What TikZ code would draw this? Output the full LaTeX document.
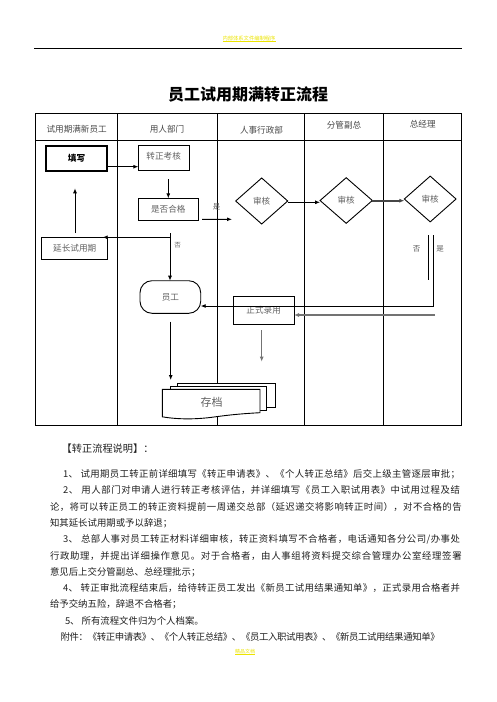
\documentclass[tikz,border=0pt]{standalone}
\usepackage{fontspec}
\setmainfont{Noto Sans CJK SC}
\usetikzlibrary{shapes.geometric,arrows.meta,calc}
\definecolor{boxtxt}{gray}{0.38}
\definecolor{headtxt}{gray}{0.28}
\definecolor{bodytxt}{gray}{0.12}
\definecolor{wm}{RGB}{236,228,0}
\definecolor{greyline}{gray}{0.45}
\def\gp{\hskip2pt\relax}
\def\sprdA#1{\ifx#1\relax\else#1\hskip0pt plus 1fil minus 1pt\relax\expandafter\sprdA\fi}
\newcommand\jline[2]{\hbox to #1{\sprdA#2\relax\unskip}}
\begin{document}
\begin{tikzpicture}[x=1pt,y=-1pt,
  every node/.style={inner sep=0pt,outer sep=0pt},
  boxs/.style={draw,line width=0.9pt,fill=white,text=boxtxt,font=\fontsize{8.6}{10}\selectfont},
  dia/.style={boxs,shape=diamond},
  arr/.style={-{Latex[length=5pt,width=4pt]},line width=0.9pt},
  tline/.style={line width=1.2pt},
  headlbl/.style={text=headtxt,font=\fontsize{8.6}{10}\selectfont},
  body/.style={anchor=west,text=bodytxt,font=\fontsize{9.4}{11}\selectfont},
  small/.style={text=boxtxt,font=\fontsize{7.5}{9}\selectfont},
  wmark/.style={text=wm,font=\fontsize{5.3}{6}\selectfont}]
\useasboundingbox (0,0) rectangle (496,702);

% page header
\node[wmark] (hdr) at (249,38.5) {内部体系文件编制程序};
\draw[wm,line width=0.7pt] ($(hdr.south west)+(0,0.8)$) -- ($(hdr.south east)+(0,0.8)$);
\draw[line width=0.8pt] (34,48.7) -- (462,48.7);

% title
\node[font=\bfseries\fontsize{16}{18}\selectfont] (title) at (248,94) {员工试用期满转正流程};

% swimlane table
\draw[tline] (35.7,113.3) rectangle (461.7,425.7);
\draw[tline] (35.7,140.7) -- (461.7,140.7);
\foreach \x in {117.7,217.7,304.7,383.3} \draw[tline] (\x,113.3) -- (\x,425.7);
\node[headlbl] (h1) at (76.7,129.3) {试用期满新员工};
\node[headlbl] (h2) at (167,129.3) {用人部门};
\node[headlbl] (h3) at (261.5,129.8) {人事行政部};
\node[headlbl] (h4) at (344,125) {分管副总};
\node[headlbl] (h5) at (422.7,124.5) {总经理};

% nodes
\node[boxs,line width=1.9pt,text=black,font=\bfseries\fontsize{8.6}{10}\selectfont,minimum width=61.6pt,minimum height=25.3pt] (tx) at (76.5,158.35) {填写};
\node[boxs,minimum width=50.7pt,minimum height=25.7pt] (zk) at (163.65,157.85) {\raisebox{3pt}{转正考核}};
\node[boxs,minimum width=60pt,minimum height=21.7pt] (hg) at (168.3,209.15) {是否合格};
\node[boxs,minimum width=66pt,minimum height=21.6pt] (yc) at (74.7,248.5) {\raisebox{-2.5pt}{延长试用期}};
\node[dia,minimum width=52pt,minimum height=46pt] (d1) at (261.7,201) {审核};
\node[dia,minimum width=52.3pt,minimum height=45.6pt] (d2) at (346.2,200.5) {审核};
\node[dia,minimum width=51.7pt,minimum height=45.7pt] (d3) at (430.2,199) {审核};
\node[boxs,rounded corners=12pt,minimum width=60.7pt,minimum height=32.6pt] (yg) at (170.35,297) {员工};
\node[boxs,minimum width=60.7pt,minimum height=28.3pt] (zs) at (263.65,310.15) {\raisebox{1pt}{正式录用}};

% archive (multi-document)
\draw[line width=0.9pt,fill=white] (177.7,383) rectangle (275,407.3);
\draw[line width=0.9pt,fill=white] (170,386.5) rectangle (266.7,410.8);
\draw[line width=0.9pt,fill=white] (162.3,389.3) -- (260,389.3) -- (260,412.7)
  .. controls (245,413.5) and (232,414.5) .. (214,417)
  .. controls (196,419.5) and (178,419.5) .. (162.3,416.8) -- cycle;
\node[text=boxtxt,font=\fontsize{11}{13}\selectfont] (cd) at (211.7,402.7) {存档};
\coordinate (cdA) at (170.7,380);
\coordinate (cdB) at (261.7,361.7);

% connectors
\draw[arr] (tx.east |- 0,166.7) -- (zk.west |- 0,166.7);
\draw[arr] ($(zk.south -| hg.north)+(0,8.3)$) -- (hg.north);
\draw[arr] ($(hg.south east)+(3.7,-0.7)$) -- ($(d1.west)+(-3.7,18.3)$);
\node[small] (lshi1) at (216.7,206.7) {是};
\draw[arr] (d1.east |- 0,202.3) -- (d2.west |- 0,202.3);
\draw[-{Latex[length=5pt,width=4pt]},line width=1.7pt,draw=gray!55!black] (d2.east |- 0,200.7) -- (d3.west |- 0,200.7);

\coordinate (fo) at (170,233.3);
\draw[arr] (fo) -- (yg.north -| fo);
\draw[arr] (fo |- 0,237.3) -- ($(yc.north east)+(-5,-0.4)$);
\node[small,font=\fontsize{6.5}{8}\selectfont] (lfou1) at (177.7,245.7) {否};
\draw[arr] ($(yc.north -| 75,0)+(0,-4.7)$) -- ($(tx.south -| 75,0)+(0,17.3)$);

\draw[arr] ($(yg.south -| cdA)+(0,8.4)$) -- (cdA);
\draw[-{Latex[length=5pt,width=4pt]},line width=1.3pt,draw=greyline] ($(zs.south -| cdB)+(0,5.7)$) -- (cdB);

% general manager outputs
\coordinate (gmN) at (428.7,235);
\coordinate (gmY) at (433.3,235);
\draw[line width=0.9pt] (gmN) -- (428.7,280);
\node[small] (lfou2) at (416.7,249) {否};
\node[small] (lshi2) at (440,249) {是};
\draw[arr] (gmY) -- (433.3,306) -- (yg.east |- 0,306);
\draw[-{Latex[length=5pt,width=4pt]},line width=1.1pt,draw=greyline] (435,315) -- (zs.east |- 0,315);

% explanation text
\node[anchor=west,text=bodytxt,font=\fontsize{10.2}{12}\selectfont] (t0) at (61.7,449) {【转正流程说明】：};
\node[body] (t1) at (63,474) {\jline{397pt}{1、\gp 试用期员工转正前详细填写《转正申请表》、《个人转正总结》后交上级主管逐层审批；}};
\node[body] (t2) at (63,490.3) {\jline{397pt}{2、\gp 用人部门对申请人进行转正考核评估，并详细填写《员工入职试用表》中试用过程及结}};
\node[body] (t3) at (50,506.6) {\jline{411.7pt}{论，将可以转正员工的转正资料提前一周递交总部（延迟递交将影响转正时间），对不合格的告}};
\node[body] (t4) at (50,522.9) {知其延长试用期或予以辞退；};
\node[body] (t5) at (63,539.2) {\jline{397pt}{3、\gp 总部人事对员工转正材料详细审核，转正资料填写不合格者，电话通知各分公司/办事处}};
\node[body] (t6) at (50,555.5) {\jline{411.7pt}{行政助理，并提出详细操作意见。对于合格者，由人事组将资料提交综合管理办公室经理签署}};
\node[body] (t7) at (50,571.8) {意见后上交分管副总、总经理批示；};
\node[body] (t8) at (63,588.1) {\jline{397pt}{4、\gp 转正审批流程结束后，给待转正员工发出《新员工试用结果通知单》，正式录用合格者并}};
\node[body] (t9) at (50,604.4) {给予交纳五险，辞退不合格者；};
\node[body] (t10) at (65,620.7) {5、\gp 所有流程文件归为个人档案。};
\node[body] (t11) at (60.7,637) {\jline{379pt}{附件：《转正申请表》、《个人转正总结》、《员工入职试用表》、《新员工试用结果通知单》}};

% page footer
\node[wmark,font=\fontsize{5}{6}\selectfont] (ftr) at (245,651.5) {精品文档};
\draw[wm,line width=0.7pt] ($(ftr.south west)+(0,0.9)$) -- ($(ftr.south east)+(0,0.9)$);
\end{tikzpicture}
\end{document}
